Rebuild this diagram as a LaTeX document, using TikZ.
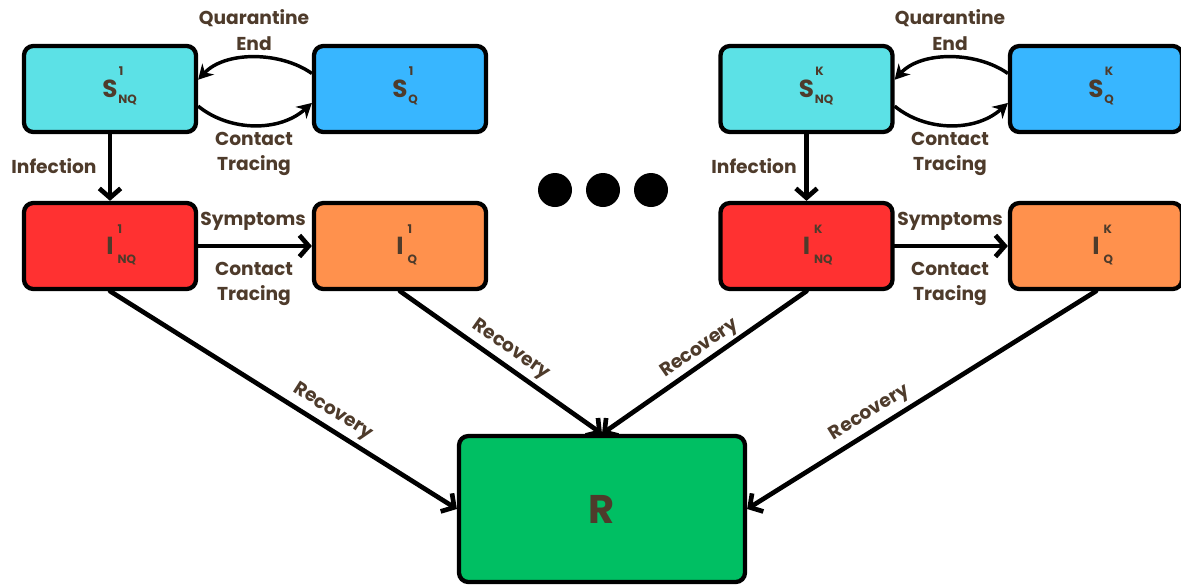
\documentclass[tikz,border=0pt]{standalone}
\usepackage{fontspec}
\setmainfont{Poppins}
\usetikzlibrary{arrows.meta}
\definecolor{txt}{HTML}{4E3B2B}
\definecolor{snqc}{HTML}{5CE1E6}
\definecolor{sqc}{HTML}{38B6FF}
\definecolor{inqc}{HTML}{FF3131}
\definecolor{iqc}{HTML}{FF914D}
\definecolor{rc}{HTML}{00BF63}
\newcommand\subsz{\fontsize{9}{9}\selectfont}
\newcommand\Scmp[2]{{\fontsize{18.5}{18.5}\selectfont S}\rlap{\hspace{1pt}\smash{\raisebox{17pt}{\subsz #1}}}\rlap{\hspace{0.5pt}\smash{\raisebox{-4.5pt}{\subsz #2}}}}
\newcommand\Icmp[2]{{\fontsize{18.5}{18.5}\selectfont I}\rlap{\hspace{3pt}\smash{\raisebox{16pt}{\subsz #1}}}\rlap{\hspace{3pt}\smash{\raisebox{-7pt}{\subsz #2}}}}
\begin{document}
\begin{tikzpicture}[x=0.75pt,y=-0.75pt,
  box/.style={draw=black, line width=3.2pt, rounded corners=7pt, minimum width=129pt, minimum height=64.5pt, text=txt, font=\bfseries, inner sep=0pt},
  lbl/.style={text=txt, font=\bfseries\fontsize{14}{19}\selectfont, align=center, inner sep=0pt},
  arr/.style={line width=3.5pt, line cap=round, -{Straight Barb[length=7pt,width=16pt]}},
  carr/.style={line width=2.6pt, -{Stealth[length=11pt,width=12pt]}},
  bigdot/.style={circle, fill=black, minimum size=25.5pt, inner sep=0pt}]
\useasboundingbox (0,0) rectangle (1181,586);

% left group
\node[box, fill=snqc] (snq1) at (110,89) {\Scmp{1}{NQ}};
\node[box, fill=sqc]  (sq1)  at (400,89) {\Scmp{1}{Q}};
\node[box, fill=inqc] (inq1) at (110,246) {\Icmp{1}{NQ}};
\node[box, fill=iqc]  (iq1)  at (400,246) {\Icmp{1}{Q}};
% right group
\node[box, fill=snqc] (snqk) at (806.5,89) {\Scmp{K}{NQ}};
\node[box, fill=sqc]  (sqk)  at (1096,89) {\Scmp{K}{Q}};
\node[box, fill=inqc] (inqk) at (806.5,246) {\Icmp{K}{NQ}};
\node[box, fill=iqc]  (iqk)  at (1096,246) {\Icmp{K}{Q}};
% recovered
\node[box, fill=rc, minimum width=214.5pt, minimum height=109.5pt, font=\bfseries\fontsize{30}{30}\selectfont] (r) at (602,509) {R};

% dots
\node[bigdot] (d1) at (555,190) {};
\node[bigdot] (d2) at (603,190) {};
\node[bigdot] (d3) at (651,190) {};

% left connectors
\draw[carr] (sq1.170) .. controls (280,51) and (225,51) .. (snq1.6);
\draw[carr] (snq1.-11) .. controls (230,132) and (280,132) .. (sq1.189);
\draw[arr] (snq1.south) -- (inq1.north);
\draw[arr] (inq1.east) -- (iq1.west);
% right connectors
\draw[carr] (sqk.170) .. controls (976,51) and (921,51) .. (snqk.6);
\draw[carr] (snqk.-11) .. controls (926,132) and (976,132) .. (sqk.189);
\draw[arr] (snqk.south) -- (inqk.north);
\draw[arr] (inqk.east) -- (iqk.west);
% recovery
\draw[arr] (inq1.south) -- (r.west);
\draw[arr] (iq1.south) -- (r.north);
\draw[arr] (inqk.south) -- (r.north);
\draw[arr] (iqk.south) -- (r.east);

% labels
\node[lbl] (lq1) at (254,30) {Quarantine\\End};
\node[lbl] (lc1) at (254,154) {Contact\\Tracing};
\node[lbl] (li1) at (54,166) {Infection};
\node[lbl] (ls1) at (253,221) {Symptoms};
\node[lbl] (lt1) at (254,284) {Contact\\Tracing};
\node[lbl] (lqk) at (950,30) {Quarantine\\End};
\node[lbl] (lck) at (950,154) {Contact\\Tracing};
\node[lbl] (lik) at (754,166) {Infection};
\node[lbl] (lsk) at (950,221) {Symptoms};
\node[lbl] (ltk) at (950,284) {Contact\\Tracing};
\node[lbl, rotate=-32.4] (lr1) at (333,412) {Recovery};
\node[lbl, rotate=-35.1] (lr2) at (511,350) {Recovery};
\node[lbl, rotate=34.7] (lr3) at (700,349) {Recovery};
\node[lbl, rotate=31.7] (lr4) at (870,413) {Recovery};
\end{tikzpicture}
\end{document}
